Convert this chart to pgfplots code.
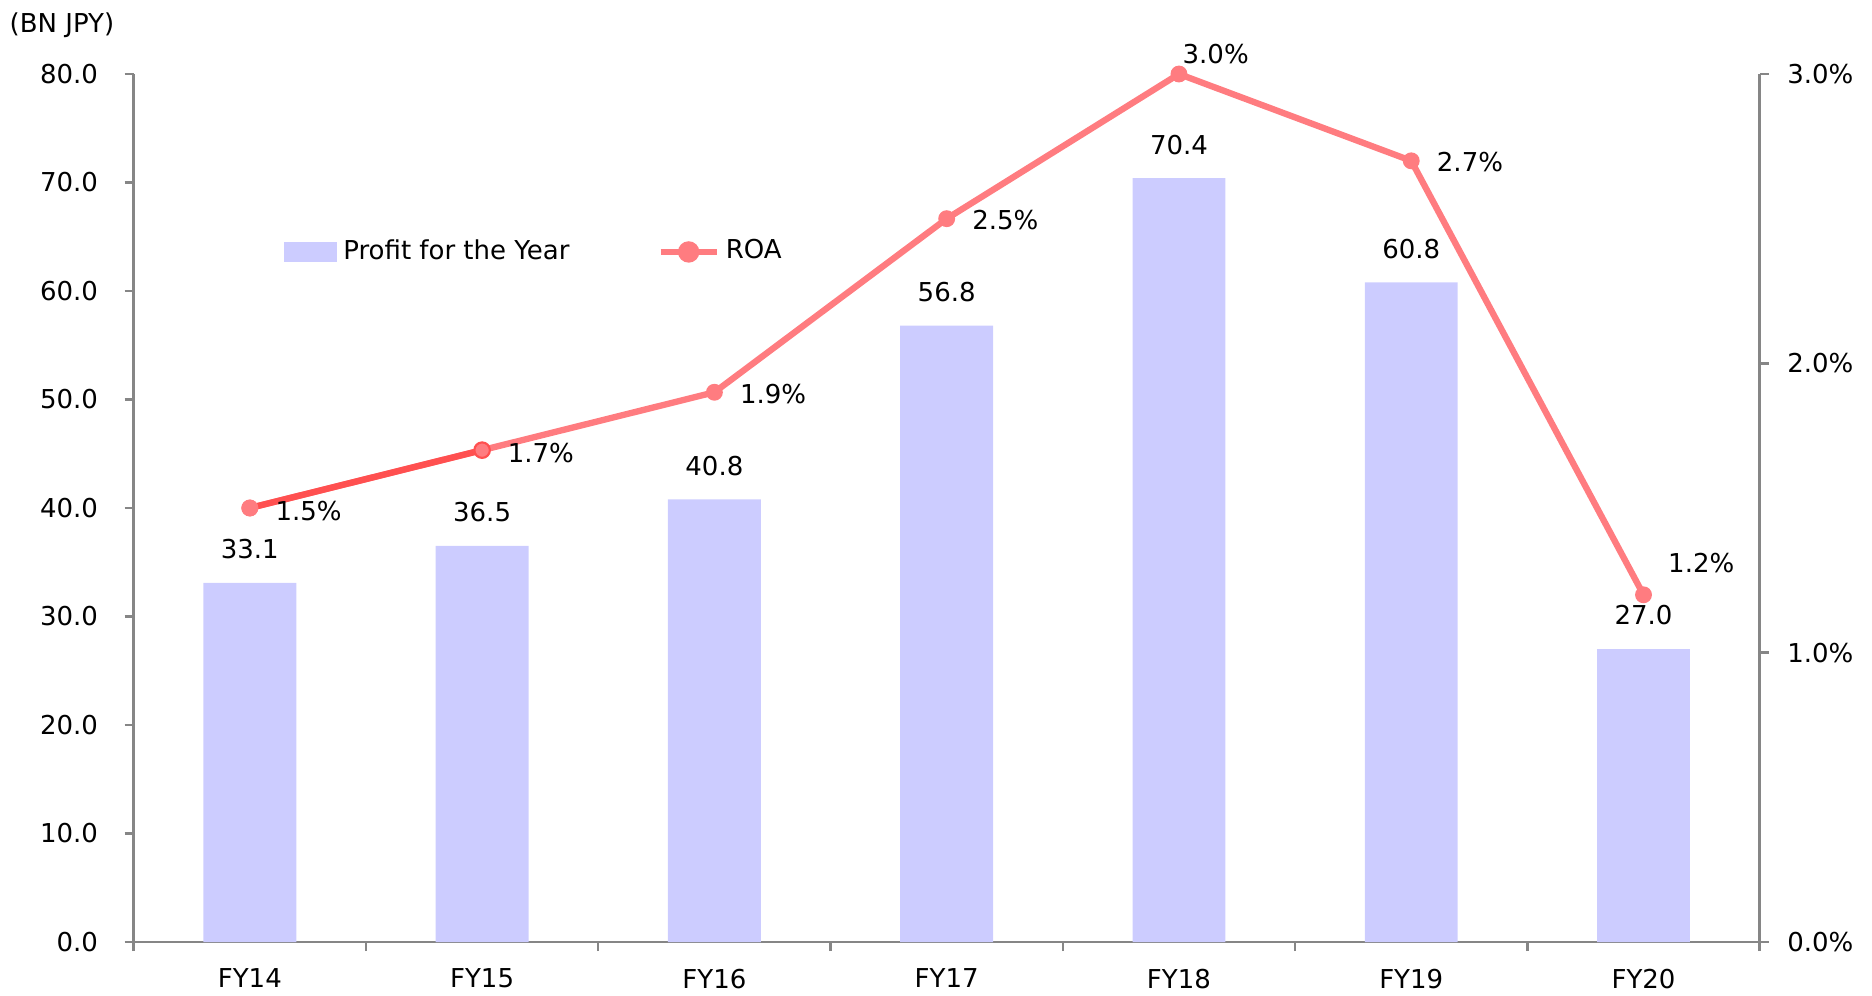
\documentclass[border=0pt]{standalone}
\usepackage{fontspec}
\setmainfont{DejaVu Sans}
\usepackage{pgfplots}
\usepackage{pgfplotstable}
\pgfplotsset{compat=1.18}

\definecolor{barc}{RGB}{204,204,255}
\definecolor{roac}{RGB}{255,124,128}
\definecolor{roadark}{RGB}{255,80,80}
\definecolor{axc}{RGB}{134,134,134}

\pgfplotstableread{
x profit
0 33.1
1 36.5
2 40.8
3 56.8
4 70.4
5 60.8
6 27.0
}\profit

% lx, ly: label offsets (mm) from the marker
\pgfplotstableread{
x roa lx ly
0 1.5 2.5 -0.3
1 1.7 2.5 -0.3
2 1.9 2.5 -0.2
3 2.5 2.5 -0.1
4 3.0 0.3 2.0
5 2.7 2.5 -0.1
6 1.2 2.4 3.2
}\roa

\pgfplotsset{
  /pgf/number format/assume math mode=true,
  common/.style={
    width=162.6mm, height=86.8mm, scale only axis,
    at={(0,0)}, anchor=south west,
    xmin=-0.5, xmax=6.5,
    tick align=outside,
    major tick length=0.9mm,
    axis line style={axc, line width=0.7pt},
    tick style={axc, line width=0.7pt},
    tick label style={font=\fontsize{7.4}{9}\selectfont, black},
  },
}

\begin{document}
\begin{tikzpicture}[font=\fontsize{7.4}{9}\selectfont]
\useasboundingbox (-13.37mm,-5.3mm) rectangle (173.83mm,94.2mm);

\begin{axis}[common,
  ymin=0, ymax=80, ytick={0,10,...,80},
  axis y line*=left, axis x line*=bottom,
  yticklabel={\pgfmathprintnumber[fixed,fixed zerofill,precision=1]{\tick}},
  yticklabel style={inner sep=0, xshift=-2.6mm},
  xtick={-0.5,0.5,1.5,2.5,3.5,4.5,5.5,6.5},
  xticklabels={},
  extra x ticks={0,1,2,3,4,5,6},
  extra x tick labels={FY14,FY15,FY16,FY17,FY18,FY19,FY20},
  extra x tick style={major tick length=0pt, xticklabel style={inner sep=0, anchor=north, yshift=-2.6mm}},
]
\addplot[ybar, bar width=0.4, fill=barc, draw=none,
  point meta=y,
  nodes near coords={\pgfmathprintnumber[fixed,fixed zerofill,precision=1]{\pgfplotspointmeta}},
  nodes near coords style={anchor=south, inner sep=0, yshift=2.3mm, text=black}]
  table[x=x, y=profit]{\profit};
\end{axis}

\begin{axis}[common,
  ymin=0, ymax=3, ytick={0,1,2,3},
  axis y line*=right, axis x line=none,
  yticklabel={\pgfmathprintnumber[fixed,fixed zerofill,precision=1]{\tick}\%},
  yticklabel style={inner sep=0, xshift=1.8mm},
  clip=false,
  legend columns=2,
  legend style={at={(0.0924,0.795)}, anchor=west, draw=none, fill=none,
    inner sep=0, outer sep=0, column sep=0.6mm,
    nodes={inner sep=0, anchor=west}, font=\fontsize{7.4}{9}\selectfont},
]
\addlegendimage{legend image code/.code={\fill[barc] (0mm,-0.9mm) rectangle (5.2mm,0.9mm);}}
\addlegendentry{Profit for the Year\rule{8.2mm}{0pt}}

\addplot[roac, line width=1.8pt, mark=*, mark size=2.2pt,
  mark options={solid, fill=roac, draw=roac, line width=0.4pt},
  point meta=y,
  visualization depends on={\thisrow{lx}\as\lblx},
  visualization depends on={\thisrow{ly}\as\lbly},
  nodes near coords={\pgfmathprintnumber[fixed,fixed zerofill,precision=1]{\pgfplotspointmeta}\%},
  nodes near coords style={anchor=west, inner sep=0, xshift=\lblx mm, yshift=\lbly mm, text=black},
  legend image code/.code={\draw[roac, line width=1.8pt] (0mm,0mm) -- (5.6mm,0mm);
    \fill[roac] (2.8mm,0mm) circle (0.75mm);}]
  table[x=x, y=roa]{\roa};
\addlegendentry{ROA}

\addplot[roadark, line width=1.8pt, forget plot] coordinates {(0,1.5) (1,1.7)};
\addplot[only marks, mark=*, mark size=2.2pt, forget plot,
  mark options={fill=roac, draw=roac, line width=0.4pt}] coordinates {(0,1.5)};
\addplot[only marks, mark=*, mark size=2.2pt, forget plot,
  mark options={fill=roac, draw=roadark, line width=0.6pt}] coordinates {(1,1.7)};
\end{axis}

\node[anchor=west, inner sep=0] at (-12.47mm,91.7mm) {(BN JPY)};
\end{tikzpicture}
\end{document}
